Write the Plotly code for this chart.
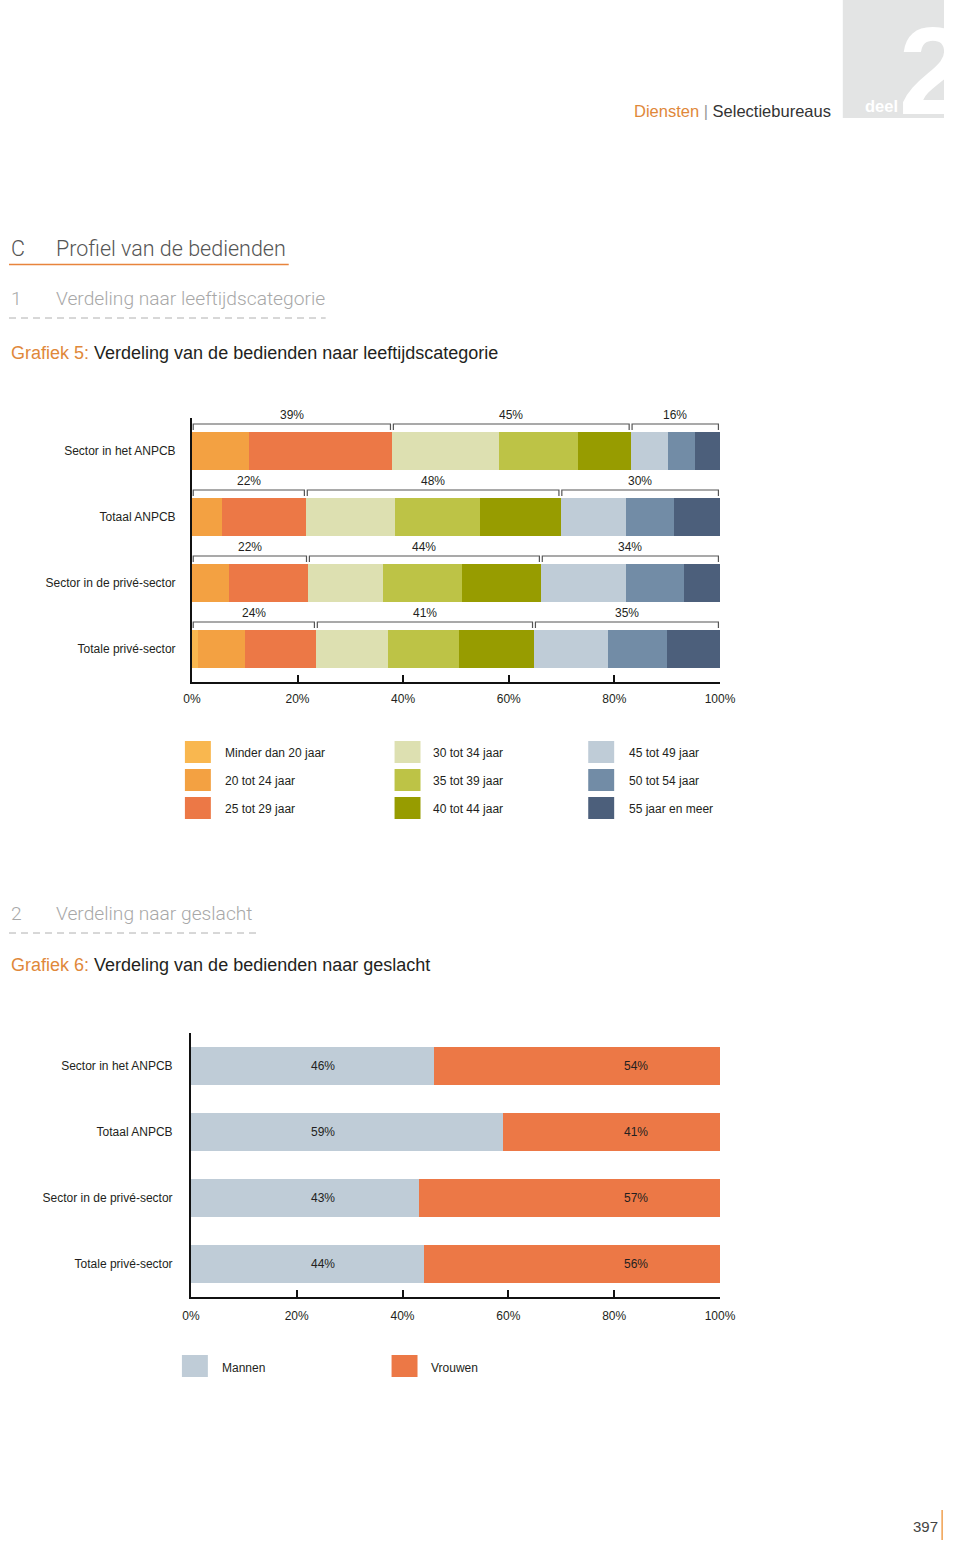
import plotly.graph_objects as go

W, H = 960, 1544

# ---------------- DATA ----------------
rows = ["Sector in het ANPCB", "Totaal ANPCB", "Sector in de privé-sector", "Totale privé-sector"]

age_names = ["Minder dan 20 jaar", "20 tot 24 jaar", "25 tot 29 jaar",
             "30 tot 34 jaar", "35 tot 39 jaar", "40 tot 44 jaar",
             "45 tot 49 jaar", "50 tot 54 jaar", "55 jaar en meer"]
age_colors = ["#f9b74f", "#f3a142", "#ec7846",
              "#dde0b1", "#bdc346", "#979c00",
              "#bfccd7", "#728ca6", "#4c5f7b"]

minder_20 = [0.0, 0.0, 0.0, 1.1]
a20_24 = [10.8, 5.7, 7.0, 9.0]
a25_29 = [27.1, 15.9, 15.0, 13.4]
a30_34 = [20.2, 16.9, 14.1, 13.6]
a35_39 = [15.0, 16.1, 15.0, 13.5]
a40_44 = [10.0, 15.2, 15.0, 14.2]
a45_49 = [7.0, 12.4, 16.0, 14.0]
a50_54 = [5.1, 9.0, 11.1, 11.2]
a55_plus = [4.8, 8.8, 6.8, 10.0]
age_series = [minder_20, a20_24, a25_29, a30_34, a35_39, a40_44, a45_49, a50_54, a55_plus]

group_young = ["39%", "22%", "22%", "24%"]
group_mid = ["45%", "48%", "44%", "41%"]
group_old = ["16%", "30%", "34%", "35%"]

mannen = [46, 59, 43, 44]
vrouwen = [54, 41, 57, 56]
gender_names = ["Mannen", "Vrouwen"]
gender_colors = ["#bfccd7", "#ec7846"]

x_ticks = [0, 20, 40, 60, 80, 100]
x_tick_text = ["0%", "20%", "40%", "60%", "80%", "100%"]

# ---------------- STYLE ----------------
NARROW = "Liberation Sans Narrow, Liberation Sans, Arial, sans-serif"
SANS = "Liberation Sans, Arial, Helvetica, sans-serif"
LIGHT = "Roboto, Liberation Sans, Arial, sans-serif"
ORANGE = "#e0883a"
TXT = "#231f20"
FS = 12
BARW = 38 / 66.0

# the capture maps page x to picture x as  8 + 0.9756 * x ; layout positions below are
# given in picture pixels and converted back to page fractions
SX, OX = 0.9756, 7.8


def px(xr):
    v = ((xr - OX) / SX) / W
    return min(max(v, 0.0), 1.0)


def py(y):
    return 1 - y / H


fig = go.Figure()
ypos = list(range(len(rows)))

for name, col, vals in zip(age_names, age_colors, age_series):
    fig.add_trace(go.Bar(x=vals, y=ypos, orientation="h", name=name,
                         marker=dict(color=col, line=dict(width=0)),
                         width=BARW, xaxis="x", yaxis="y", showlegend=False,
                         hoverinfo="skip"))

for name, col, vals in zip(gender_names, gender_colors, [mannen, vrouwen]):
    fig.add_trace(go.Bar(x=vals, y=ypos, orientation="h", name=name,
                         marker=dict(color=col, line=dict(width=0)),
                         width=BARW, xaxis="x2", yaxis="y2", showlegend=False,
                         hoverinfo="skip"))

# header box "deel 2": big numeral clipped by its own (hidden) axes area
HDR_X0 = 843
HDR_X1 = OX + SX * W
fig.add_trace(go.Scatter(x=[899], y=[83], mode="text", text=["2"],
                         textposition="middle right", cliponaxis=True,
                         textfont=dict(family=SANS, size=124, color="white", weight="bold"),
                         xaxis="x3", yaxis="y3", showlegend=False, hoverinfo="skip"))

shapes = []
annotations = []

# ---- brackets over chart 1 ----
groups = [(0, 3, group_young), (3, 6, group_mid), (6, 9, group_old)]
for i in range(len(rows)):
    vals = [s[i] for s in age_series]
    cum = [0.0]
    for v in vals:
        cum.append(cum[-1] + v)
    for g0, g1, labels in groups:
        xs = cum[g0] + 0.25
        xe = min(cum[g1] - 0.3, 99.95)
        top = i - BARW / 2 - 8 / 66.0
        bot = i - BARW / 2 - 2 / 66.0
        shapes.append(dict(type="path", xref="x", yref="y",
                           path=f"M {xs},{bot} L {xs},{top} L {xe},{top} L {xe},{bot}",
                           line=dict(color="#555555", width=1.2)))
        annotations.append(dict(x=(xs + xe) / 2, y=top, xref="x", yref="y",
                                text=labels[i], showarrow=False,
                                font=dict(family=NARROW, size=FS, color=TXT),
                                xanchor="center", yanchor="bottom", yshift=0))

# ---- value labels chart 2 ----
for i in range(len(rows)):
    annotations.append(dict(x=25, y=i, xref="x2", yref="y2", text=f"{mannen[i]}%",
                            showarrow=False, font=dict(family=NARROW, size=FS, color=TXT)))
    annotations.append(dict(x=84.2, y=i, xref="x2", yref="y2", text=f"{vrouwen[i]}%",
                            showarrow=False, font=dict(family=NARROW, size=FS, color=TXT)))

# ---- legend chart 1 ----
leg_cols = [(184, 222), (394, 431), (588, 627)]
leg_rows = [752, 780, 808]
for k, (name, col) in enumerate(zip(age_names, age_colors)):
    cx, tx = leg_cols[k // 3]
    cy = leg_rows[k % 3]
    shapes.append(dict(type="rect", xref="paper", yref="paper",
                       x0=px(cx), x1=px(cx + 26), y0=py(cy + 11), y1=py(cy - 11),
                       fillcolor=col, line=dict(width=0)))
    annotations.append(dict(x=px(tx), y=py(cy + 1), xref="paper", yref="paper", text=name,
                            showarrow=False, xanchor="left", yanchor="middle",
                            font=dict(family=NARROW, size=FS, color=TXT)))

# ---- legend chart 2 ----
for (cx, tx), name, col in zip([(181, 219), (391, 429)], gender_names, gender_colors):
    cy = 1366
    shapes.append(dict(type="rect", xref="paper", yref="paper",
                       x0=px(cx), x1=px(cx + 26), y0=py(cy + 11), y1=py(cy - 11),
                       fillcolor=col, line=dict(width=0)))
    annotations.append(dict(x=px(tx), y=py(cy + 2), xref="paper", yref="paper", text=name,
                            showarrow=False, xanchor="left", yanchor="middle",
                            font=dict(family=NARROW, size=FS, color=TXT)))

# ---- page header ----
shapes.append(dict(type="rect", xref="paper", yref="paper", x0=px(HDR_X0), x1=1.0,
                   y0=py(118), y1=1.0, fillcolor="#e3e4e4", line=dict(width=0), layer="below"))
annotations.append(dict(x=px(863), y=py(106), xref="paper", yref="paper", text="deel",
                        showarrow=False, xanchor="left", yanchor="middle",
                        font=dict(family=SANS, size=16.5, color="white", weight="bold")))
annotations.append(dict(x=px(833), y=py(111), xref="paper", yref="paper",
                        text=f"<span style='color:{ORANGE}'>Diensten</span>"
                             "<span style='color:#999999'> | </span>Selectiebureaus",
                        showarrow=False, xanchor="right", yanchor="middle",
                        font=dict(family=SANS, size=16.5, color="#333333")))

# ---- section headings ----
annotations.append(dict(x=px(0), y=py(248), xref="paper", yref="paper", text="C",
                        showarrow=False, xanchor="left", yanchor="middle",
                        font=dict(family=LIGHT, size=21.5, color="#555555", weight=300)))
annotations.append(dict(x=px(53), y=py(248), xref="paper", yref="paper",
                        text="Profiel van de bedienden",
                        showarrow=False, xanchor="left", yanchor="middle",
                        font=dict(family=LIGHT, size=21.5, color="#555555", weight=300)))
shapes.append(dict(type="line", xref="paper", yref="paper", x0=px(2), x1=px(288),
                   y0=py(264.5), y1=py(264.5), line=dict(color="#e8843c", width=1.3)))

for num, title, ty, dash_end in [("1", "Verdeling naar leeftijdscategorie", 298, 325),
                                  ("2", "Verdeling naar geslacht", 913, 256)]:
    annotations.append(dict(x=px(0), y=py(ty), xref="paper", yref="paper", text=num,
                            showarrow=False, xanchor="left", yanchor="middle",
                            font=dict(family=LIGHT, size=19.2, color="#a8a8a8", weight=300)))
    annotations.append(dict(x=px(53), y=py(ty), xref="paper", yref="paper", text=title,
                            showarrow=False, xanchor="left", yanchor="middle",
                            font=dict(family=LIGHT, size=19.2, color="#a8a8a8", weight=300)))
    shapes.append(dict(type="line", xref="paper", yref="paper", x0=px(2), x1=px(dash_end),
                       y0=py(ty + 20), y1=py(ty + 20),
                       line=dict(color="#b0b0b0", width=1, dash="7px,5px")))

for label, title, ty in [("Grafiek 5:", "Verdeling van de bedienden naar leeftijdscategorie", 353),
                         ("Grafiek 6:", "Verdeling van de bedienden naar geslacht", 965)]:
    annotations.append(dict(x=px(0), y=py(ty), xref="paper", yref="paper",
                            text=f"<span style='color:{ORANGE}'>{label}</span> {title}",
                            showarrow=False, xanchor="left", yanchor="middle",
                            font=dict(family=SANS, size=18, color=TXT)))

# ---- page number ----
annotations.append(dict(x=px(940), y=py(1526), xref="paper", yref="paper", text="397",
                        showarrow=False, xanchor="right", yanchor="middle",
                        font=dict(family=SANS, size=15, color="#444444")))
shapes.append(dict(type="line", xref="paper", yref="paper", x0=px(953) - 0.002,
                   x1=px(953) - 0.002, y0=py(1510), y1=py(1540),
                   line=dict(color="#f0a050", width=1.5)))

# ---------------- AXES ----------------
xcommon = dict(range=[0, 100], tickvals=x_ticks, ticktext=x_tick_text, ticks="",
               showgrid=False, zeroline=False, showline=True, linecolor="#111111",
               linewidth=1.8, tickfont=dict(family=NARROW, size=FS, color=TXT),
               minor=dict(tickvals=[20, 40, 60, 80], ticks="inside", ticklen=7,
                          tickwidth=1.5, tickcolor="#111111", showgrid=False),
               fixedrange=True)
ycommon = dict(range=[3.5, -0.5], tickvals=ypos, ticktext=rows, ticks="",
               showgrid=False, zeroline=False, showline=True, linecolor="#111111",
               linewidth=1.8, tickfont=dict(family=NARROW, size=FS, color=TXT),
               fixedrange=True)
hidden = dict(visible=False, showgrid=False, zeroline=False, fixedrange=True)

fig.update_layout(
    width=W, height=H, margin=dict(l=0, r=0, t=0, b=0),
    paper_bgcolor="white", plot_bgcolor="rgba(0,0,0,0)",
    barmode="stack", bargap=0, showlegend=False,
    xaxis=dict(domain=[px(191), px(720)], anchor="y", ticklabelstandoff=5, **xcommon),
    yaxis=dict(domain=[py(682), py(418)], anchor="x", ticklabelstandoff=12, **ycommon),
    xaxis2=dict(domain=[px(190), px(720)], anchor="y2", ticklabelstandoff=7, **xcommon),
    yaxis2=dict(domain=[py(1297), py(1033)], anchor="x2", ticklabelstandoff=14, **ycommon),
    xaxis3=dict(domain=[px(HDR_X0), 1.0], anchor="y3", range=[HDR_X0, HDR_X1], **hidden),
    yaxis3=dict(domain=[py(118), 1.0], anchor="x3", range=[118, 0], **hidden),
    shapes=shapes, annotations=annotations,
)

page_css = (
    "var st=document.createElement('style');"
    "st.textContent='html,body{margin:0!important;padding:0!important;overflow:hidden!important;"
    "width:960px;height:1544px;}';"
    "document.head.appendChild(st);"
)

fig.write_html(
    "out.html",
    config={"displayModeBar": False, "responsive": False},
    post_script=page_css,
)
